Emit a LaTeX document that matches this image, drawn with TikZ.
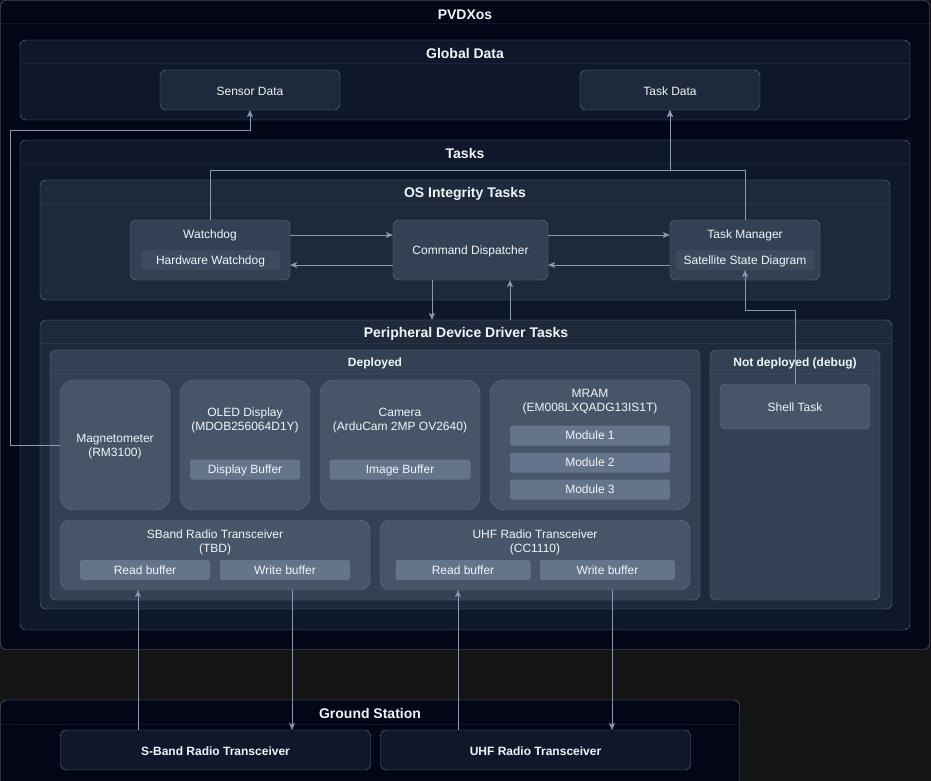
\documentclass[tikz,border=0pt]{standalone}
\usepackage{fontspec}
\setmainfont{Liberation Sans}
\usepackage{xcolor}
\usetikzlibrary{arrows.meta}
\definecolor{pagebg}{RGB}{20, 20, 20}
\definecolor{navydeep}{HTML}{020617}
\definecolor{slateA}{HTML}{0F172A}
\definecolor{slateB}{HTML}{1E293B}
\definecolor{slateC}{HTML}{334155}
\definecolor{slateD}{HTML}{475569}
\definecolor{slateE}{HTML}{64748B}
\definecolor{edgegray}{HTML}{64748B}
\definecolor{wiregray}{HTML}{8A9AB0}
\definecolor{fgtext}{HTML}{F1F5F9}

\begin{document}
\begin{tikzpicture}[x=1pt, y=-1pt,
    lane/.style={draw=edgegray, rounded corners=6pt, inner sep=0pt},
    box/.style={draw=edgegray, rounded corners=6pt, inner sep=0pt},
    chip/.style={rounded corners=2.5pt, inner sep=0pt, text=fgtext,
      font=\fontsize{12}{14}\selectfont, text depth=0pt, text height=8.5pt},
    label/.style={text=fgtext, align=center, yshift=-1.2pt,
      font=\fontsize{12}{14}\selectfont},
    lanetitle/.style={text=fgtext, yshift=-0.8pt,
      font=\bfseries\fontsize{14}{16}\selectfont},
    subtitle/.style={text=fgtext, yshift=-0.8pt,
      font=\bfseries\fontsize{12}{14}\selectfont},
    sepline/.style={draw=edgegray, opacity=0.15},
    link/.style={draw=wiregray, -{Stealth[length=7pt, width=6pt, inset=2pt]}}]

  % ── Page ──────────────────────────────────────────────────────────────────
  \fill[pagebg] (0,0) rectangle (931,781);
  \useasboundingbox (0,0) rectangle (931,781);

  % ── PVDXos ────────────────────────────────────────────────────────────────
  \node[lane, fill=navydeep, minimum width=929pt, minimum height=649pt]
    (pvdx) at (465,325) {};
  \node[lanetitle] (pvdxtitle) at ([yshift=-14pt]pvdx.north) {PVDXos};
  \draw[sepline] ([yshift=-23pt]pvdx.north west) -- ([yshift=-23pt]pvdx.north east);

  % ── Global Data ───────────────────────────────────────────────────────────
  \node[lane, fill=slateA, minimum width=890pt, minimum height=80pt]
    (global) at (465,80) {};
  \node[lanetitle] (globaltitle) at ([yshift=-13pt]global.north) {Global Data};
  \draw[sepline] ([yshift=-23pt]global.north west) -- ([yshift=-23pt]global.north east);
  \node[box, fill=slateB, minimum width=180pt, minimum height=40pt]
    (sensor) at (250,90) {};
  \node[label] (sensortext) at (sensor) {Sensor Data};
  \node[box, fill=slateB, minimum width=180pt, minimum height=40pt]
    (taskdata) at (670,90) {};
  \node[label] (taskdatatext) at (taskdata) {Task Data};

  % ── Tasks ─────────────────────────────────────────────────────────────────
  \node[lane, fill=slateA, minimum width=890pt, minimum height=490pt]
    (tasks) at (465,385) {};
  \node[lanetitle] (taskstitle) at ([yshift=-13pt]tasks.north) {Tasks};
  \draw[sepline] ([yshift=-23pt]tasks.north west) -- ([yshift=-23pt]tasks.north east);

  % ── OS Integrity Tasks ────────────────────────────────────────────────────
  \node[lane, fill=slateB, minimum width=850pt, minimum height=120pt]
    (osint) at (465,240) {};
  \node[lanetitle] (osinttitle) at ([yshift=-13pt]osint.north) {OS Integrity Tasks};
  \draw[sepline] ([yshift=-23pt]osint.north west) -- ([yshift=-23pt]osint.north east);

  \node[box, fill=slateC, minimum width=160pt, minimum height=60pt]
    (watchdog) at (210,250) {};
  \node[label] (watchdogtext) at (210,234) {Watchdog};
  \node[chip, fill=slateC!55!slateD, minimum width=139pt, minimum height=20pt]
    (hwwd) at (210.5,260) {Hardware Watchdog};

  \node[box, fill=slateC, minimum width=155pt, minimum height=60pt]
    (dispatch) at (470.5,250) {};
  \node[label] (dispatchtext) at (dispatch) {Command Dispatcher};

  \node[box, fill=slateC, minimum width=150pt, minimum height=60pt]
    (taskmgr) at (745,250) {};
  \node[label] (taskmgrtext) at (745,234) {Task Manager};
  \node[chip, fill=slateC!55!slateD, minimum width=138pt, minimum height=20pt]
    (ssd) at (745,260) {Satellite State Diagram};

  % ── Peripheral Device Driver Tasks ────────────────────────────────────────
  \node[lane, fill=slateB, minimum width=852pt, minimum height=289pt]
    (periph) at (466,464.5) {};
  \node[lanetitle] (periphtitle) at ([yshift=-13pt]periph.north)
    {Peripheral Device Driver Tasks};
  \draw[sepline] ([yshift=-23pt]periph.north west) -- ([yshift=-23pt]periph.north east);

  % Deployed
  \node[lane, fill=slateC, minimum width=650pt, minimum height=250pt]
    (deployed) at (375,475) {};
  \node[subtitle] (deployedtitle) at ([yshift=-13pt]deployed.north) {Deployed};
  \draw[sepline] ([yshift=-23pt]deployed.north west) -- ([yshift=-23pt]deployed.north east);

  \node[box, fill=slateD, rounded corners=14pt, minimum width=110pt, minimum height=130pt]
    (magneto) at (115,445) {};
  \node[label] (magnetotext) at (magneto) {Magnetometer\\(RM3100)};

  \node[box, fill=slateD, rounded corners=14pt, minimum width=130pt, minimum height=130pt]
    (oled) at (245,445) {};
  \node[label] (oledtext) at (245,419) {OLED Display\\(MDOB256064D1Y)};
  \node[chip, fill=slateE, minimum width=110pt, minimum height=20pt]
    (dispbuf) at (245,469.5) {Display Buffer};

  \node[box, fill=slateD, rounded corners=14pt, minimum width=160pt, minimum height=130pt]
    (camera) at (400,445) {};
  \node[label] (cameratext) at (400,419) {Camera\\(ArduCam 2MP OV2640)};
  \node[chip, fill=slateE, minimum width=141pt, minimum height=20pt]
    (imgbuf) at (400,469.5) {Image Buffer};

  \node[box, fill=slateD, rounded corners=14pt, minimum width=200pt, minimum height=130pt]
    (mram) at (590,445) {};
  \node[label] (mramtext) at (590,400.5) {MRAM\\(EM008LXQADG13IS1T)};
  \node[chip, fill=slateE, minimum width=160pt, minimum height=20pt]
    (module1) at (590,435.5) {Module 1};
  \node[chip, fill=slateE, minimum width=160pt, minimum height=20pt]
    (module2) at (590,462.5) {Module 2};
  \node[chip, fill=slateE, minimum width=160pt, minimum height=20pt]
    (module3) at (590,489.5) {Module 3};

  \node[box, fill=slateD, rounded corners=10pt, minimum width=310pt, minimum height=70pt]
    (sband) at (215,555) {};
  \node[label] (sbandtext) at (215,541) {SBand Radio Transceiver\\(TBD)};
  \node[chip, fill=slateE, minimum width=130pt, minimum height=20pt]
    (sbandread) at (145,570) {Read buffer};
  \node[chip, fill=slateE, minimum width=130pt, minimum height=20pt]
    (sbandwrite) at (285,570) {Write buffer};

  \node[box, fill=slateD, rounded corners=10pt, minimum width=310pt, minimum height=70pt]
    (uhf) at (535,555) {};
  \node[label] (uhftext) at (535,541) {UHF Radio Transceiver\\(CC1110)};
  \node[chip, fill=slateE, minimum width=135pt, minimum height=20pt]
    (uhfread) at (463,570) {Read buffer};
  \node[chip, fill=slateE, minimum width=135pt, minimum height=20pt]
    (uhfwrite) at (607.5,570) {Write buffer};

  % Not deployed
  \node[lane, fill=slateC, minimum width=170pt, minimum height=250pt]
    (notdep) at (795,475) {};
  \node[subtitle] (notdeptitle) at ([yshift=-13pt]notdep.north) {Not deployed (debug)};
  \draw[sepline] ([yshift=-23pt]notdep.north west) -- ([yshift=-23pt]notdep.north east);
  \node[box, fill=slateD, minimum width=150pt, minimum height=45pt]
    (shell) at (795,406.5) {};
  \node[label] (shelltext) at (shell) {Shell Task};

  % ── Ground Station ────────────────────────────────────────────────────────
  \node[lane, fill=navydeep, minimum width=739pt, minimum height=90pt]
    (ground) at (370,745) {};
  \node[lanetitle] (groundtitle) at ([yshift=-13pt]ground.north) {Ground Station};
  \draw[sepline] ([yshift=-24pt]ground.north west) -- ([yshift=-24pt]ground.north east);
  \node[box, fill=slateA, minimum width=310pt, minimum height=40pt]
    (gsband) at (215.5,750) {};
  \node[subtitle] (gsbandtext) at (gsband) {S-Band Radio Transceiver};
  \node[box, fill=slateA, minimum width=310pt, minimum height=40pt]
    (guhf) at (535.5,750) {};
  \node[subtitle] (guhftext) at (guhf) {UHF Radio Transceiver};

  % ── Connectors ────────────────────────────────────────────────────────────
  \coordinate (magrail) at (10,130);
  \coordinate (toprail) at (670,170);
  \coordinate (rowA) at (0,235);
  \coordinate (rowB) at (0,265);
  \coordinate (shellrail) at (0,310);
  \coordinate (downcol) at (432,0);
  \coordinate (upcol) at (510,0);
  \coordinate (sbup) at (138,0);
  \coordinate (sbdown) at (292,0);
  \coordinate (uhfup) at (458,0);
  \coordinate (uhfdown) at (612,0);

  \draw[link] (magneto.west) -| (magrail) -| (sensor.south);
  \draw[link] (watchdog.north) |- (toprail) -- (taskdata.south);
  \draw[link] (taskmgr.north) |- (toprail) -- (taskdata.south);

  \draw[link] (watchdog.east |- rowA) -- (dispatch.west |- rowA);
  \draw[link] (dispatch.west |- rowB) -- (watchdog.east |- rowB);
  \draw[link] (dispatch.east |- rowA) -- (taskmgr.west |- rowA);
  \draw[link] (taskmgr.west |- rowB) -- (dispatch.east |- rowB);

  \draw[link] (dispatch.south -| downcol) -- (periph.north -| downcol);
  \draw[link] (periph.north -| upcol) -- (dispatch.south -| upcol);
  \draw[link] (shell.north) |- (ssd.south |- shellrail) -- (ssd.south);

  \draw[link] (gsband.north -| sbup) -- (sband.south -| sbup);
  \draw[link] (sband.south -| sbdown) -- (gsband.north -| sbdown);
  \draw[link] (guhf.north -| uhfup) -- (uhf.south -| uhfup);
  \draw[link] (uhf.south -| uhfdown) -- (guhf.north -| uhfdown);

\end{tikzpicture}
\end{document}
